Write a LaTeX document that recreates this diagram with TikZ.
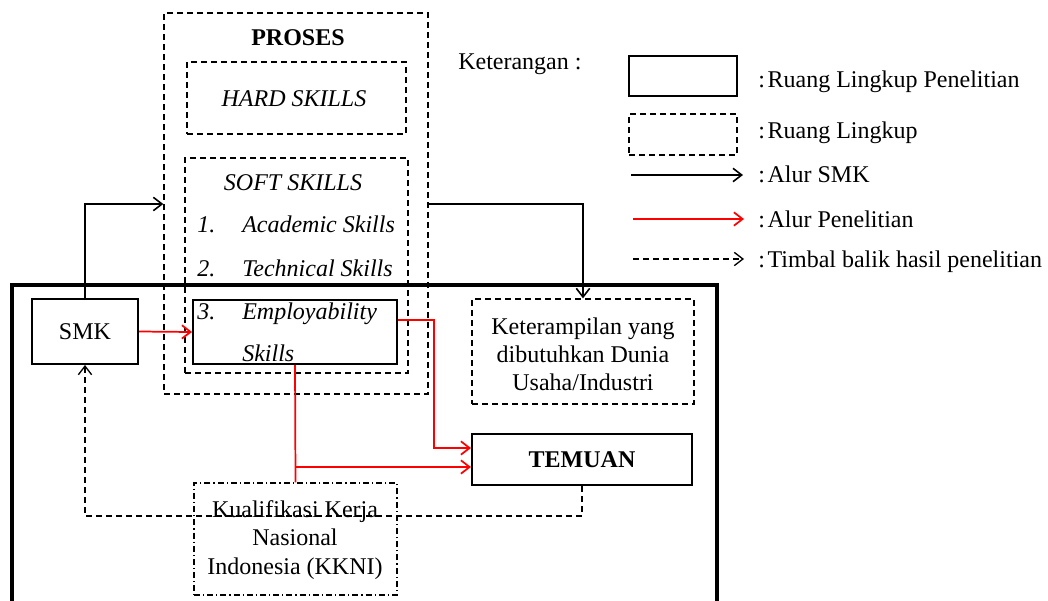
\documentclass[tikz,border=0pt]{standalone}
\usepackage{fontspec}
\setmainfont{Liberation Serif}
\usetikzlibrary{arrows.meta,fit}
\begin{document}
\begin{tikzpicture}[x=0.75pt,y=-0.75pt,
  every node/.style={font=\fontsize{18}{21.2}\selectfont, inner sep=0pt},
  itx/.style={font=\fontsize{18}{21.2}\selectfont\itshape},
  mainbox/.style={draw, line width=2.6pt, inner sep=0pt},
  solidbox/.style={draw, line width=1.5pt, inner sep=0pt},
  dashbox/.style={draw, line width=1pt, dash pattern=on 4.5pt off 3pt, inner sep=0pt},
  dashdotbox/.style={draw, line width=1pt, dash pattern=on 4.5pt off 2.2pt on 1pt off 2.2pt, inner sep=0pt},
  tip/.style={-{Straight Barb[length=6.5pt,width=10pt]}},
  blkarrow/.style={line width=1.2pt, tip},
  redline/.style={red, line width=1.3pt},
  redarrow/.style={red, line width=1.3pt, tip},
  fbarrow/.style={line width=1pt, dash pattern=on 4.5pt off 3pt, tip},
]
\useasboundingbox (0,0) rectangle (1048,600);

% main research scope box (extends beyond bottom)
\node[mainbox, fit={(12,285)(717,640)}] (scopebox) {};

% PROSES group
\node[dashbox, fit={(164,13)(428,394)}] (proses) {};
\node[anchor=base] (prosest) at (298,45) {\textbf{PROSES}};
\node[dashbox, fit={(187,62)(406,134)}] (hard) {};
\node[itx, anchor=base] (hardt) at (294,106) {HARD SKILLS};
\node[dashbox, fit={(185,158)(408,373)}] (soft) {};
\node[itx, anchor=base] (softt) at (293,190) {SOFT SKILLS};
\node[itx, anchor=base west] (n1) at (197,232) {1.};
\node[itx, anchor=base west] (s1) at (242,232) {Academic Skills};
\node[itx, anchor=base west] (n2) at (197,276) {2.};
\node[itx, anchor=base west] (s2) at (242,276) {Technical Skills};
\node[solidbox, fit={(193,300)(397,364)}] (emp) {};
\node[itx, anchor=base west] (n3) at (197,319) {3.};
\node[itx, anchor=base west] (s3) at (242,319) {Employability};
\node[itx, anchor=base west] (s3b) at (242,361) {Skills};

% SMK
\node[solidbox, fit={(32,299)(138,364)}] (smk) {};
\node[anchor=base] (smkt) at (smk.center |- 0,339) {SMK};

% Keterampilan
\node[dashbox, fit={(472,299)(694,404)}] (ket) {};
\node[align=center] (kett) at (583,354.5) {Keterampilan yang\\dibutuhkan Dunia\\Usaha/Industri};

% TEMUAN
\node[solidbox, fit={(472,434)(692,485)}] (tem) {};
\node[anchor=base] (temt) at (582,467) {\textbf{TEMUAN}};

% KKNI
\node[dashdotbox, fit={(194,483)(397,595)}] (kkni) {};
\node[align=center] (kknit) at (295,540) {Kualifikasi Kerja\\Nasional\\Indonesia (KKNI)};

% helper coordinates
\coordinate (y204) at (0,204);
\coordinate (y320) at (0,320);
\coordinate (rr) at (434,448);
\coordinate (y467) at (0,467);
\coordinate (y516) at (0,516);

% black flows
\draw[blkarrow] (smk.north) |- (proses.west |- y204);
\draw[blkarrow] (proses.east |- y204) -| (ket.north);

% red flows
\draw[redarrow] (smk.east) -- (emp.west);
\draw[redarrow] (emp.east |- y320) -| (rr) -- (tem.west |- rr);
\draw[redline] (emp.south) -- (kkni.north);
\draw[redarrow] (emp.south |- y467) -- (tem.west |- y467);

% feedback
\draw[fbarrow] (tem.south) -- (tem.south |- y516) -- (smk.south |- y516) -- (smk.south);

% legend
\node[anchor=base west] (keter) at (458,69) {Keterangan :};
\node[solidbox, fit={(629,56)(737,96)}] (lsolid) {};
\node[anchor=base west] (l1) at (758,87) {:\kern2pt Ruang Lingkup Penelitian};
\node[dashbox, fit={(629,114)(737,155)}] (ldash) {};
\node[anchor=base west] (l2) at (758,138) {:\kern2pt Ruang Lingkup};
\coordinate (a1s) at (631,175); \coordinate (a1e) at (743,175);
\draw[blkarrow] (a1s) -- (a1e);
\node[anchor=base west] (l3) at (758,182) {:\kern2pt Alur SMK};
\coordinate (a2s) at (633,219); \coordinate (a2e) at (744,219);
\draw[redarrow] (a2s) -- (a2e);
\node[anchor=base west] (l4) at (758,227) {:\kern2pt Alur Penelitian};
\coordinate (a3s) at (633,259); \coordinate (a3e) at (744,259);
\draw[fbarrow] (a3s) -- (a3e);
\node[anchor=base west] (l5) at (758,267) {:\kern2pt Timbal balik hasil penelitian};
\end{tikzpicture}
\end{document}
